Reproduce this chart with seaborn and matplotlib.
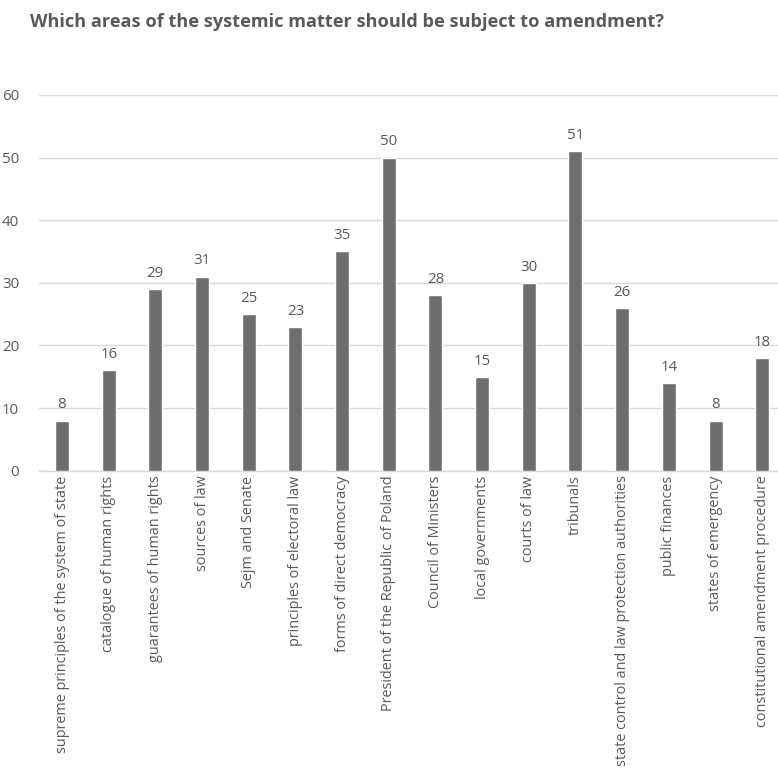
import matplotlib
matplotlib.use("Agg")
import matplotlib.pyplot as plt
import seaborn as sns
import pandas as pd

categories = [
    "supreme principles of the system of state",
    "catalogue of human rights",
    "guarantees of human rights",
    "sources of law",
    "Sejm and Senate",
    "principles of electoral law",
    "forms of direct democracy",
    "President of the Republic of Poland",
    "Council of Ministers",
    "local governments",
    "courts of law",
    "tribunals",
    "state control and law protection authorities",
    "public finances",
    "states of emergency",
    "constitutional amendment procedure",
]
values = [8, 16, 29, 31, 25, 23, 35, 50, 28, 15, 30, 51, 26, 14, 8, 18]
y_ticks = [0, 10, 20, 30, 40, 50, 60]
title = "Which areas of the systemic matter should be subject to amendment?"

df = pd.DataFrame({"area": categories, "count": values})

sns.set_theme(style="white")
plt.rcParams["font.family"] = ["Open Sans", "DejaVu Sans"]

text_color = "#595959"
bar_color = "#6e6e70"

fig = plt.figure(figsize=(7.78, 7.78), dpi=100)
ax = fig.add_axes([0.0497, 0.395, 0.96, 0.483])

sns.barplot(data=df, x="area", y="count", color=bar_color, width=0.3,
            saturation=1, ax=ax, zorder=3)

ax.set_ylim(0, 60)
ax.set_yticks(y_ticks)
ax.yaxis.grid(True, color="#d9d9d9", linewidth=1, zorder=0)
ax.set_xlabel("")
ax.set_ylabel("")
for s in ["top", "right", "left"]:
    ax.spines[s].set_visible(False)
ax.spines["bottom"].set_color("#d9d9d9")
ax.spines["bottom"].set_linewidth(1)
ax.tick_params(axis="both", length=0, colors=text_color, labelsize=10.8)
ax.tick_params(axis="y", pad=14)
ax.set_xticks(range(len(categories)))
ax.set_xticklabels(categories, rotation=90, fontsize=10.4, color=text_color)

for i, v in enumerate(values):
    ax.text(i, v + 1.3, str(v), ha="center", va="bottom", fontsize=10.8,
            color=text_color)

fig.text(0.038, 0.972, title, fontsize=13.1, fontweight="bold",
         color=text_color, ha="left", va="center")

fig.savefig("out.png", dpi=100, facecolor="white")
